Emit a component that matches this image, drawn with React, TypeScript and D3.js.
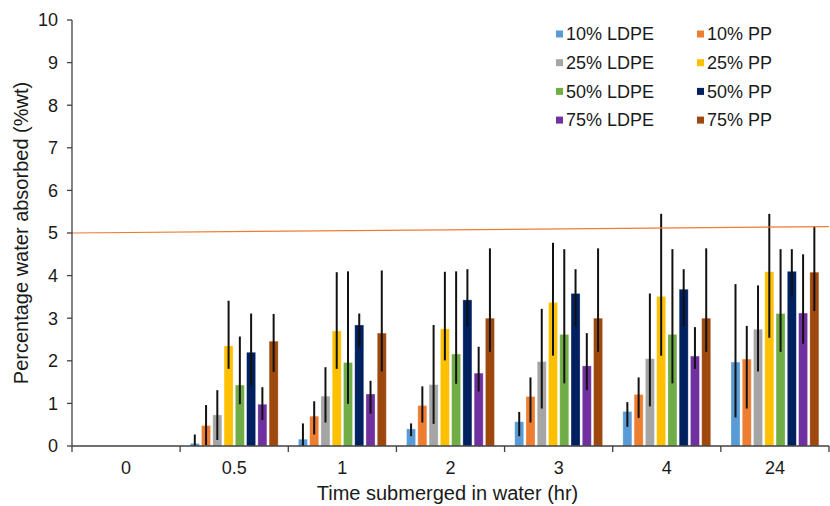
import React from "react";
import * as d3 from "d3";

const categories = ["0", "0.5", "1", "2", "3", "4", "24"];
const seriesNames = ["10% LDPE", "10% PP", "25% LDPE", "25% PP", "50% LDPE", "50% PP", "75% LDPE", "75% PP"];
const seriesColors = ["#5B9BD5", "#ED7D31", "#A5A5A5", "#FFC000", "#70AD47", "#002060", "#7030A0", "#9E480E"];

// values per series, per category
const values = [
  [0, 0.06, 0.16, 0.40, 0.57, 0.81, 1.97],
  [0, 0.48, 0.70, 0.95, 1.16, 1.21, 2.04],
  [0, 0.73, 1.17, 1.44, 1.98, 2.05, 2.74],
  [0, 2.35, 2.70, 2.75, 3.37, 3.51, 4.09],
  [0, 1.43, 1.96, 2.16, 2.62, 2.62, 3.11],
  [0, 2.20, 2.84, 3.43, 3.58, 3.68, 4.10],
  [0, 0.98, 1.22, 1.71, 1.88, 2.11, 3.12],
  [0, 2.46, 2.65, 3.00, 3.00, 3.00, 4.08],
];
// error bar top ends
const errHigh = [
  [0, 0.27, 0.53, 0.53, 0.80, 1.03, 3.80],
  [0, 0.96, 1.05, 1.40, 1.61, 1.61, 2.82],
  [0, 1.31, 1.85, 2.84, 3.22, 3.58, 3.77],
  [0, 3.41, 4.08, 4.09, 4.77, 5.45, 5.45],
  [0, 2.57, 4.10, 4.10, 4.62, 4.62, 4.62],
  [0, 3.11, 3.11, 4.15, 4.15, 4.15, 4.62],
  [0, 1.38, 1.53, 2.33, 2.65, 2.79, 4.50],
  [0, 3.10, 4.12, 4.64, 4.64, 4.64, 5.16],
];
// error bar bottom ends
const errLow = [
  [0, 0.0, 0.0, 0.23, 0.23, 0.45, 0.67],
  [0, 0.02, 0.27, 0.55, 0.55, 0.66, 0.88],
  [0, 0.14, 0.55, 0.52, 0.88, 0.93, 1.75],
  [0, 1.81, 1.81, 2.01, 2.12, 2.12, 2.54],
  [0, 0.98, 0.99, 1.46, 1.47, 1.47, 2.21],
  [0, 1.41, 2.32, 2.81, 2.81, 2.81, 3.50],
  [0, 0.61, 0.76, 1.28, 1.31, 1.81, 2.40],
  [0, 1.74, 1.75, 2.21, 2.21, 2.21, 3.17],
];
const yTicks = [0, 1, 2, 3, 4, 5, 6, 7, 8, 9, 10];
const trendValues = [5.0, 5.15];

export default function App() {
  const W = 830, H = 506;
  const left = 72, right = 829, top = 20, bottom = 446;
  const font = "'Liberation Sans', Arial, sans-serif";
  const x0 = d3.scaleBand<string>().domain(categories).range([left, right]).padding(0);
  const x1 = d3.scaleBand<string>().domain(seriesNames).range([0, x0.bandwidth()]).paddingInner(0.2).paddingOuter(0.9);
  const y = d3.scaleLinear().domain([0, 10]).range([bottom, top]);
  const boundaries = categories.map((c) => x0(c) as number).concat([right]);

  return (
    <svg width={W} height={H} style={{ position: "absolute", left: 0, top: 0, background: "#fff" }} fontFamily={font}>
      {/* bars */}
      {seriesNames.map((s, si) => (
        <g key={s}>
          {categories.map((c, ci) => {
            const v = values[si][ci];
            if (v <= 0) return null;
            const bx = (x0(c) as number) + (x1(s) as number);
            return (
              <rect key={c} x={bx} y={y(v)} width={x1.bandwidth()} height={y(0) - y(v)}
                fill={seriesColors[si]} stroke="#ffffff" strokeOpacity={0.35} strokeWidth={0.8} />
            );
          })}
        </g>
      ))}
      {/* error bars */}
      {seriesNames.map((s, si) => (
        <g key={s + "e"}>
          {categories.map((c, ci) => {
            if (values[si][ci] <= 0) return null;
            const cx = (x0(c) as number) + (x1(s) as number) + x1.bandwidth() / 2;
            return (
              <line key={c} x1={cx} x2={cx} y1={y(errHigh[si][ci])} y2={y(errLow[si][ci])}
                stroke="#111" strokeWidth={2} />
            );
          })}
        </g>
      ))}
      {/* trend line */}
      <line x1={left} x2={right} y1={y(trendValues[0])} y2={y(trendValues[1])} stroke="#ED7D31" strokeWidth={1.2} />
      {/* y axis */}
      <line x1={left} x2={left} y1={top} y2={bottom} stroke="#404040" strokeWidth={1.3} />
      {yTicks.map((t) => (
        <g key={t}>
          <line x1={left - 5} x2={left} y1={y(t)} y2={y(t)} stroke="#404040" strokeWidth={1.3} />
          <text x={left - 14} y={y(t)} dy="0.35em" textAnchor="end" fontSize={18} fill="#1a1a1a">{t}</text>
        </g>
      ))}
      {/* x axis */}
      <line x1={left} x2={right} y1={bottom} y2={bottom} stroke="#404040" strokeWidth={1.3} />
      {boundaries.map((bx, i) => (
        <line key={i} x1={bx} x2={bx} y1={bottom} y2={bottom + 6} stroke="#404040" strokeWidth={1.3} />
      ))}
      {categories.map((c) => (
        <text key={c} x={(x0(c) as number) + x0.bandwidth() / 2} y={468} dy="0.35em" textAnchor="middle" fontSize={18} fill="#1a1a1a">{c}</text>
      ))}
      <text x={(left + right) / 2 - 3} y={493} dy="0.35em" textAnchor="middle" fontSize={20} fill="#1a1a1a">Time submerged in water (hr)</text>
      <text transform={`translate(21,${(top + bottom) / 2}) rotate(-90)`} dy="0.35em" textAnchor="middle" fontSize={20} fill="#1a1a1a">Percentage water absorbed (%wt)</text>
      {/* legend */}
      {seriesNames.map((s, i) => {
        const col = i % 2, row = Math.floor(i / 2);
        const lx = col === 0 ? 556 : 697;
        const ly = 34 + row * 28.7;
        return (
          <g key={s + "l"}>
            <rect x={lx} y={ly - 3.5} width={7} height={7} fill={seriesColors[i]} />
            <text x={lx + 10} y={ly} dy="0.35em" fontSize={18} fill="#1a1a1a">{s}</text>
          </g>
        );
      })}
    </svg>
  );
}
